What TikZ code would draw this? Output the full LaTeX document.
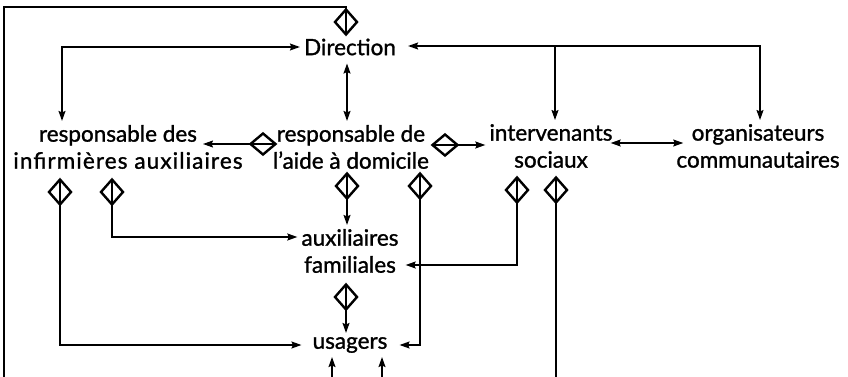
\documentclass[tikz,border=0pt]{standalone}
\usepackage{fontspec}
\setmainfont{Lato}
\usetikzlibrary{arrows.meta,shapes.geometric,calc}
\begin{document}
\begin{tikzpicture}[x=1pt,y=-1pt,
  lbl/.style={font=\fontsize{22.5}{27}\selectfont\addfontfeature{FakeBold=1.2}, align=center, inner xsep=4pt, inner ysep=4pt},
  con/.style={line width=1.3pt, >={Stealth[length=10pt,width=7pt,inset=1.5pt]}},
  dia/.style={diamond, draw, line width=2.4pt, inner sep=0pt, outer sep=0pt},
  vdia/.style={dia, minimum width=22pt, minimum height=25pt,
    path picture={\draw[line width=1.3pt] (path picture bounding box.north) -- (path picture bounding box.south);}},
  hdia/.style={dia, minimum width=25pt, minimum height=21pt,
    path picture={\draw[line width=1.3pt] (path picture bounding box.west) -- (path picture bounding box.east);}}
]
\useasboundingbox[fill=white] (0,0) rectangle (848,377);

% text nodes
\node[lbl] (dir)   at (350,47)  {Direction};
\node[lbl] (rdes)  at (128,147) {responsable des\hspace{20pt}\mbox{}\\{\addfontfeature{LetterSpace=5}infirmières auxiliaires}};
\node[lbl] (rde)   at (351,147) {responsable de\\l’aide à domicile};
\node[lbl] (inter) at (551,146) {intervenants\\sociaux};
\node[lbl] (org)   at (758,146) {organisateurs\\communautaires};
\node[lbl] (aux)   at (350,251) {auxiliaires\\familiales};
\node[lbl] (usa)   at (350,345) {usagers};

% diamonds
\node[vdia] (dtop) at (346,22)  {};
\node[hdia] (dl)   at (263,144) {};
\node[hdia] (dr)   at (445,145) {};
\node[vdia] (d1)   at (60,192)  {};
\node[vdia] (d2)   at (112,192) {};
\node[vdia] (d3)   at (347,186) {};
\node[vdia] (d4)   at (420,186) {};
\node[vdia] (d5)   at (517,190) {};
\node[vdia] (d6)   at (556,190) {};
\node[vdia] (d7)   at (346,297) {};

% free ends and corners
\coordinate (bl) at (4,377);
\coordinate (tl) at (4,7);
\coordinate (cl) at (62,47);
\coordinate (cm) at (555,46);
\coordinate (cr) at (760,46);
\coordinate (tipl) at (203,144);
\coordinate (b6) at (556,377);
\coordinate (ub1) at (332,377);
\coordinate (ub2) at (382,377);

% connectors
\draw[con] (bl) -- (tl) -| (dtop.north);
\draw[con,<->] (cl |- rdes.north) -- (cl) -- (dir.west);
\draw[con,<->] ([xshift=8pt,yshift=1pt]dir.east) -- (cr) -- (cr |- org.north);
\draw[con,->] (cm) -- (cm |- inter.north);
\draw[con,<->] ([yshift=-4pt]dir.south -| d3) -- (rde.north -| d3);
\draw[con,->] (dl.west) -- (tipl);
\draw[con,->] (dr.east) -- (inter.west |- dr);
\draw[con,<->] ([xshift=-6pt,yshift=3pt]inter.east) -- ([xshift=11pt,yshift=3pt]org.west);
\draw[con,->] (d1.south) |- ([xshift=-7pt]usa.west);
\draw[con,->] (d2.south) |- ($(aux.west)+(0,-14)$);
\draw[con,->] (d3.south) -- (d3 |- aux.north);
\draw[con,->] (d4.south) |- ([xshift=8pt]usa.east);
\draw[con,->] (d5.south) |- ($(aux.east)+(3,14)$);
\draw[con] (d6.south) -- (b6);
\draw[con,->] (d7.south) -- (d7 |- usa.north);
\draw[con,->] (ub1) -- (ub1 |- usa.south);
\draw[con,->] (ub2) -- (ub2 |- usa.south);
\end{tikzpicture}
\end{document}
